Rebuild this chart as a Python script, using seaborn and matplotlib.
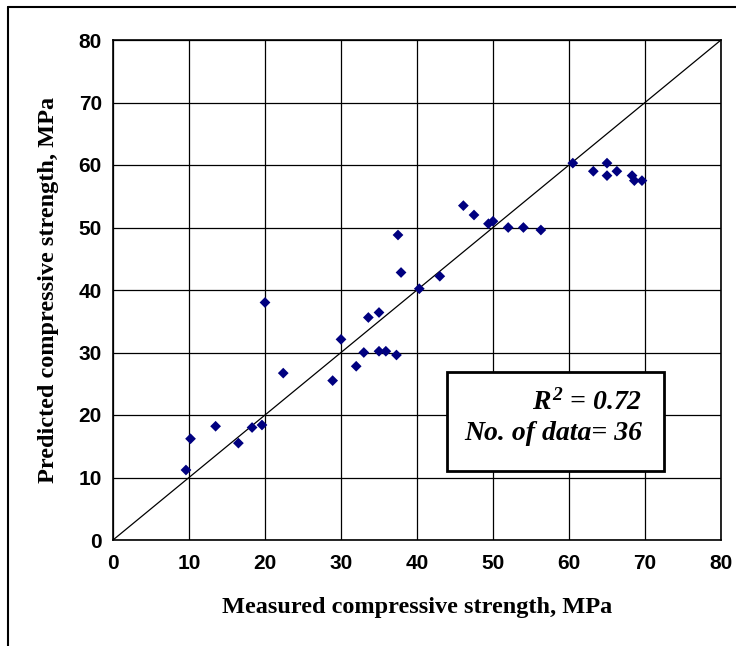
import pandas as pd
import seaborn as sns
import matplotlib
matplotlib.use("Agg")
import matplotlib.pyplot as plt
from matplotlib.lines import Line2D
from matplotlib.patches import Rectangle

# data
measured = [9.6, 10.2, 13.5, 16.5, 18.3, 19.6, 20.0, 22.4,
            28.9, 30.0, 32.0, 33.0, 33.6, 35.0, 35.0, 35.9, 37.3,
            37.5, 37.9, 40.3, 43.0,
            46.1, 47.5, 49.4, 50.0, 52.0, 54.0, 56.3,
            60.5, 63.2, 65.0, 65.0, 66.3, 68.3, 68.6, 69.6]
predicted = [11.2, 16.2, 18.2, 15.5, 18.0, 18.4, 38.0, 26.7,
             25.5, 32.1, 27.8, 30.0, 35.6, 36.4, 30.2, 30.2, 29.6,
             48.8, 42.8, 40.2, 42.2,
             53.5, 52.0, 50.6, 51.0, 50.0, 50.0, 49.6,
             60.3, 59.0, 60.3, 58.3, 59.0, 58.3, 57.5, 57.5]
ticks = [0, 10, 20, 30, 40, 50, 60, 70, 80]
r_squared = 0.72

df = pd.DataFrame({"measured": measured, "predicted": predicted})

sns.set_style("white")
plt.rcParams["font.family"] = ["Liberation Sans", "DejaVu Sans"]
plt.rcParams["text.color"] = "black"
plt.rcParams["axes.labelcolor"] = "black"
plt.rcParams["xtick.color"] = "black"
plt.rcParams["ytick.color"] = "black"
plt.rcParams["mathtext.fontset"] = "custom"
plt.rcParams["mathtext.rm"] = "Liberation Serif:italic:bold"
plt.rcParams["mathtext.it"] = "Liberation Serif:italic:bold"

fig = plt.figure(figsize=(7.36, 6.46), dpi=100)
ax = fig.add_axes([113 / 736, 1 - 540 / 646, 608 / 736, 500 / 646])

# outer chart frame (only left and top edges are visible)
fig.add_artist(Line2D([8 / 736, 8 / 736], [0, 1 - 7 / 646], color="black", lw=1.5))
fig.add_artist(Line2D([8 / 736, 1], [1 - 7 / 646, 1 - 7 / 646], color="black", lw=1.5))

# grid
for t in ticks:
    ax.axvline(t, color="black", lw=0.9, zorder=1)
    ax.axhline(t, color="black", lw=0.9, zorder=1)

# 1:1 line
ax.plot([0, 80], [0, 80], color="black", lw=0.9, zorder=2)

sns.scatterplot(data=df, x="measured", y="predicted", marker="D", color="#000080",
                s=30, edgecolor="none", linewidth=0, ax=ax, zorder=4, legend=False)

ax.set_xlim(0, 80)
ax.set_ylim(0, 80)
ax.set_xticks(ticks)
ax.set_yticks(ticks)
ax.set_xticklabels([str(t) for t in ticks], fontsize=15, fontweight="bold")
ax.set_yticklabels([str(t) for t in ticks], fontsize=15, fontweight="bold")
ax.tick_params(axis="both", direction="in", length=4, width=1, color="black",
               labelcolor="black")
ax.tick_params(axis="x", pad=10)
ax.tick_params(axis="y", pad=8)
for sp in ax.spines.values():
    sp.set_color("black")
    sp.set_linewidth(1.2)

ax.set_xlabel("Measured compressive strength, MPa", fontsize=17.5,
              fontweight="bold", family="Liberation Serif", color="black")
ax.set_ylabel("Predicted compressive strength, MPa", fontsize=17.5,
              fontweight="bold", family="Liberation Serif", color="black")
ax.xaxis.set_label_coords(0.5, (540 - 607) / 500)
ax.xaxis.label.set_va("center")
ax.yaxis.set_label_coords((49 - 113) / 608, 0.5)
ax.yaxis.label.set_va("center")

# annotation box
ax.add_patch(Rectangle((43.9, 11.0), 28.6, 15.9, facecolor="white",
                       edgecolor="black", lw=2, zorder=5))
ax.text(69.6, 22.1, f"$R^{{2}}$ = {r_squared:.2f}", ha="right", va="center",
        fontsize=20, fontweight="bold", fontstyle="italic", color="black",
        family="Liberation Serif", zorder=6)
ax.text(69.6, 17.1, f"No. of data= {len(measured)}", ha="right", va="center",
        fontsize=20, fontweight="bold", fontstyle="italic", color="black",
        family="Liberation Serif", zorder=6)

fig.savefig("out.png", dpi=100)
